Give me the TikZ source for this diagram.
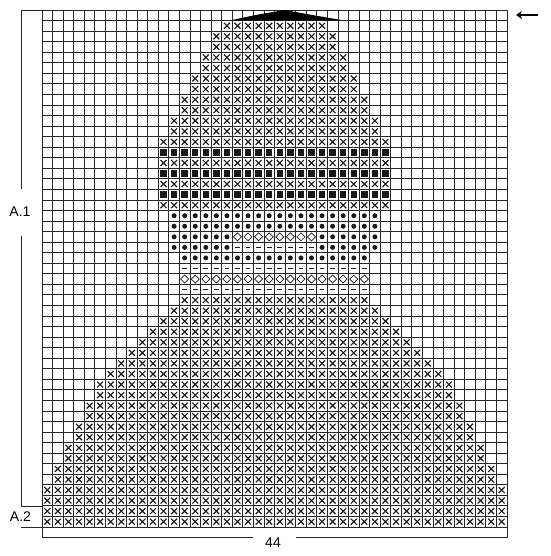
\documentclass[tikz,border=0pt]{standalone}
\usepackage{fontspec}
\setmainfont{Liberation Sans}
\usetikzlibrary{arrows.meta}
\begin{document}
\begin{tikzpicture}[x=1pt,y=-1pt,
  gridline/.style={line width=0.8pt,draw=black!85},
  xmark/.style={line width=1.15pt,draw=black!90,line cap=butt},
  sqmark/.style={fill=black!90},
  dotmark/.style={fill=black!90},
  diamark/.style={draw=black!90,line width=0.7pt,fill=white},
  dashmark/.style={draw=black!90,line width=1.4pt},
  bracket/.style={line width=0.8pt,draw=black!85},
  lbl/.style={font=\fontsize{14}{16}\selectfont,inner sep=0pt}]
\useasboundingbox (0,0) rectangle (550,556);
\def\cw{10.568}\def\ch{10.55}\def\gx{42}\def\gy{10}
\newcommand\mkX[2]{\draw[xmark] ({\gx+(#1+0.5)*\cw-2.95},{\gy+(#2+0.5)*\ch-2.95}) -- ++(5.9,5.9) ({\gx+(#1+0.5)*\cw+2.95},{\gy+(#2+0.5)*\ch-2.95}) -- ++(-5.9,5.9);}
\newcommand\mkS[2]{\fill[sqmark] ({\gx+(#1+0.5)*\cw-3.2},{\gy+(#2+0.5)*\ch-3.2}) rectangle ++(6.4,6.4);}
\newcommand\mkO[2]{\fill[dotmark] ({\gx+(#1+0.5)*\cw},{\gy+(#2+0.5)*\ch}) circle (2.5);}
\newcommand\mkD[2]{\draw[diamark] ({\gx+(#1+0.5)*\cw-4},{\gy+(#2+0.5)*\ch}) -- ++(4,-4) -- ++(4,4) -- ++(-4,4) -- cycle;}
\newcommand\mkH[2]{\draw[dashmark] ({\gx+(#1+0.5)*\cw-2.4},{\gy+(#2+0.5)*\ch}) -- ++(4.8,0);}
% grid
\foreach \i in {0,...,44} \draw[gridline] ({\gx+\i*\cw},\gy) -- ({\gx+\i*\cw},{\gy+49*\ch});
\foreach \j in {0,...,49} \draw[gridline] (\gx,{\gy+\j*\ch}) -- ({\gx+44*\cw},{\gy+\j*\ch});
% cross rows
\foreach \r/\a in {1/17,2/16,3/16,4/15,5/15,6/14,7/14,8/13,9/13,10/12,11/12,12/11,14/11,16/11,18/11,27/13,28/12,29/11,30/10,31/9,32/8,33/7,34/6,35/5,36/5,37/4,38/4,39/3,40/3,41/2,42/2,43/1,44/1,45/0,46/0,47/0,48/0}
  {\pgfmathtruncatemacro\b{43-\a}\foreach \c in {\a,...,\b} {\mkX{\c}{\r}}}
% square rows
\foreach \r in {13,15,17} {\foreach \c in {11,...,32} {\mkS{\c}{\r}}}
% dots
\foreach \r in {19,20} {\foreach \c in {12,...,31} {\mkO{\c}{\r}}}
\foreach \r in {21,22} {\foreach \c in {12,...,17,26,27,...,31} {\mkO{\c}{\r}}}
\foreach \c in {13,...,30} {\mkO{\c}{23}}
% diamonds
\foreach \c in {18,...,25} {\mkD{\c}{21}}
\foreach \c in {13,...,30} {\mkD{\c}{25}}
% dashes
\foreach \c in {18,...,25} {\mkH{\c}{22}}
\foreach \r in {24,26} {\foreach \c in {13,...,30} {\mkH{\c}{\r}}}
% top wedge
\fill[black] (230,20.5) .. controls (255,15) .. (285,10) .. controls (312,15) .. (344,20.5) -- cycle;
% labels
\node[lbl] (a1) at (20,212) {A.1};
\node[lbl] (a2) at (20.5,517) {A.2};
\node[lbl] (n44) at (273,543) {44};
% brackets
\draw[bracket] (42,10) -- (21,10) -- (21,189);
\draw[bracket] (21,236) -- (21,506.4) -- (42,506.4);
\draw[bracket] (21,527) -- (42,527);
\draw[bracket] (42,527) -- (42,537) -- (253,537);
\draw[bracket] (296,537) -- (507,537) -- (507,527);
% direction arrow
\coordinate (arS) at (538,15);
\coordinate (arE) at (516,15);
\draw[line width=1.3pt,-{Stealth[length=6pt,width=8pt,inset=2pt]}] (arS) -- (arE);
\end{tikzpicture}
\end{document}
